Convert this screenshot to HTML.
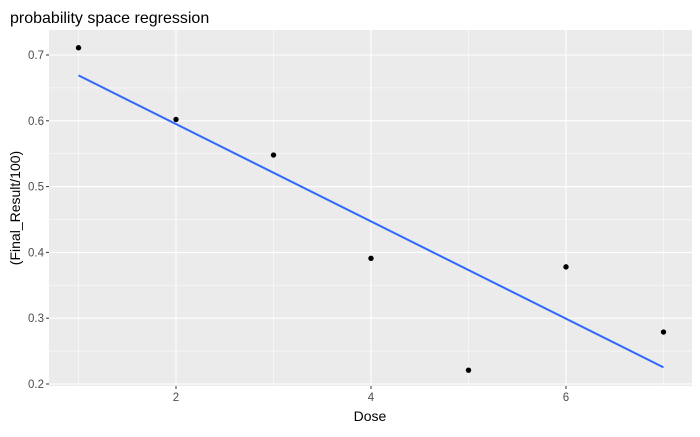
<!DOCTYPE html>
<html><head><meta charset="utf-8"><style>
body{margin:0;background:#fff;}
svg text{font-family:"Liberation Sans",sans-serif;}
</style></head><body>
<svg id="chart" width="700" height="432">
<text x="10" y="23" font-size="16" fill="#000">probability space regression</text>
<rect x="49" y="30" width="643" height="356" fill="#EBEBEB"/>
<g id="grid"></g><g id="marks"></g><g id="axes"></g>
<text x="370" y="421" font-size="14" text-anchor="middle" fill="#000">Dose</text>
<text transform="translate(20,208) rotate(-90)" font-size="14" text-anchor="middle" fill="#000">(Final_Result/100)</text>
</svg>
<script>
const doses=[1,2,3,4,5,6,7];
const results=[0.711,0.602,0.548,0.391,0.221,0.378,0.279];
const xTicks=[2,4,6];
const yTicks=[0.2,0.3,0.4,0.5,0.6,0.7];
const NS="http://www.w3.org/2000/svg";
function X(v){return 78.5+(v-1)*97.5;}
function Y(v){return 55+(0.7-v)*658;}
function mk(t,a,p){const e=document.createElementNS(NS,t);for(const k in a)e.setAttribute(k,a[k]);p.appendChild(e);return e;}
const grid=document.getElementById('grid'),marks=document.getElementById('marks'),axes=document.getElementById('axes');
// minor grid
for(let i=0;i<xTicks.length+1;i++){const v=xTicks[0]-1+2*i;if(X(v)>49&&X(v)<692){const l=mk('line',{x1:X(v),x2:X(v),y1:30,y2:386,stroke:'#fff','stroke-width':0.5},grid);}}
for(let i=0;i<yTicks.length-1;i++){const v=yTicks[i]+0.05;const l=mk('line',{x1:49,x2:692,y1:Y(v),y2:Y(v),stroke:'#fff','stroke-width':0.5},grid);}
xTicks.forEach(v=>{const l=mk('line',{x1:X(v),x2:X(v),y1:30,y2:386,stroke:'#fff','stroke-width':1.1},grid);
const tk=mk('line',{x1:X(v),x2:X(v),y1:386,y2:389,stroke:'#333'},axes);
const t=mk('text',{x:X(v),y:401,'font-size':11.5,'text-anchor':'middle',fill:'#4D4D4D'},axes);t.textContent=v;});
yTicks.forEach(v=>{const l=mk('line',{x1:49,x2:692,y1:Y(v),y2:Y(v),stroke:'#fff','stroke-width':1.1},grid);
const tk=mk('line',{x1:46,x2:49,y1:Y(v),y2:Y(v),stroke:'#333'},axes);
const t=mk('text',{x:44,y:Y(v)+4,'font-size':11.5,'text-anchor':'end',fill:'#4D4D4D'},axes);t.textContent=v.toFixed(1);});
// regression
const n=doses.length,mx=doses.reduce((a,b)=>a+b)/n,my=results.reduce((a,b)=>a+b)/n;
let sxy=0,sxx=0;doses.forEach((x,i)=>{sxy+=(x-mx)*(results[i]-my);sxx+=(x-mx)**2;});
const b=sxy/sxx,a=my-b*mx,x0=Math.min(...doses),x1=Math.max(...doses);
const rl=mk('line',{x1:X(x0),y1:Y(a+b*x0),x2:X(x1),y2:Y(a+b*x1),stroke:'#3366FF','stroke-width':2},marks);

doses.forEach((x,i)=>{const c=mk('circle',{cx:X(x),cy:Y(results[i]),r:2.7,fill:'#000'},marks);});
</script>
</body></html>
